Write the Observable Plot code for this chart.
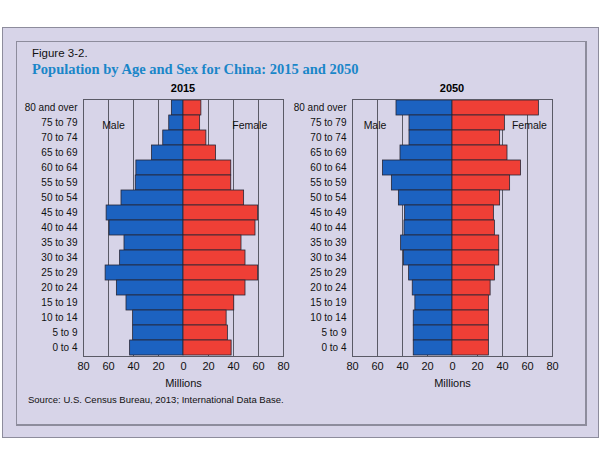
<!DOCTYPE html>
<html>
<head>
<meta charset="utf-8">
<script src="https://cdn.jsdelivr.net/npm/d3@7"></script>
<script src="https://cdn.jsdelivr.net/npm/@observablehq/plot@0.6"></script>
<style>
  html, body { margin: 0; padding: 0; background: #fff; width: 600px; height: 467px; overflow: hidden; }
  #outer { position: absolute; left: 2px; top: 27px; width: 595px; height: 409px; background: #d7d4e8; border: 1px solid #8d8c9c; }
  #inner { position: absolute; left: 16px; top: 41px; width: 568px; height: 382px; border: 1px solid #8d8c9c; border-right-width: 2px; border-bottom-width: 2px; }
  .txt { position: absolute; font-family: "Liberation Sans", Arial, sans-serif; color: #111; white-space: nowrap; }
  #fig { left: 32px; top: 47px; font-size: 11.5px; }
  #title { left: 32px; top: 61px; font-size: 14.5px; font-weight: bold; color: #1a86c8; font-family: "Liberation Serif", serif; }
  #source { left: 28px; top: 394px; font-size: 9.5px; }
  .year { position: absolute; font-family: "Liberation Sans", Arial, sans-serif; font-weight: bold; font-size: 11px; top: 82px; transform: translateX(-50%); }
  .panel { position: absolute; top: 80px; }
</style>
</head>
<body>
<div id="outer"></div>
<div id="inner"></div>
<div class="txt" id="fig">Figure 3-2.</div>
<div class="txt" id="title">Population by Age and Sex for China: 2015 and 2050</div>
<div class="year" style="left:183px">2015</div>
<div class="year" style="left:452px">2050</div>
<div class="panel" id="p1" style="left:0px"></div>
<div class="panel" id="p2" style="left:269px"></div>
<div class="txt" id="source">Source: U.S. Census Bureau, 2013; International Data Base.</div>
<script>
const ageGroups = ["80 and over","75 to 79","70 to 74","65 to 69","60 to 64","55 to 59","50 to 54","45 to 49","40 to 44","35 to 39","30 to 34","25 to 29","20 to 24","15 to 19","10 to 14","5 to 9","0 to 4"];
// Millions, in the same order as ageGroups
const male2015   = [9.3, 11.4, 16.2, 25.2, 37.7, 38.2, 49.6, 61.5, 59.2, 47.2, 50.7, 62.3, 53.3, 45.6, 40.3, 40.3, 42.7];
const female2015 = [14.3, 13.3, 18.3, 26.0, 38.2, 38.2, 48.5, 59.7, 57.6, 46.4, 49.6, 59.7, 49.6, 40.6, 34.5, 35.5, 38.5];
const male2050   = [44.8, 34.4, 34.4, 41.6, 55.6, 48.5, 42.9, 37.9, 38.4, 41.1, 38.9, 34.7, 31.8, 29.7, 31.0, 31.0, 31.0];
const female2050 = [69.1, 41.9, 38.1, 44.0, 54.8, 46.1, 38.1, 33.1, 33.9, 37.4, 37.4, 33.9, 30.5, 29.1, 29.1, 29.1, 29.1];
const xTicks = [-80,-60,-40,-20,0,20,40,60,80];
const gridLines = [-60,-40,-20,20,40,60];
const sexLabels = ["Male","Female"];

function pyramid(male, female, labelPos) {
  const rows = [];
  ageGroups.forEach((a, i) => {
    rows.push({age: a, sex: "Male", value: -male[i]});
    rows.push({age: a, sex: "Female", value: female[i]});
  });
  return Plot.plot({
    width: 290, height: 310,
    marginLeft: 83, marginRight: 7, marginTop: 19, marginBottom: 34,
    style: {background: "transparent", fontFamily: "Liberation Sans, Arial, sans-serif", fontSize: "10px", color: "#111"},
    x: {domain: [-80, 80], ticks: xTicks, tickFormat: d => Math.abs(d), tickSize: 0, tickPadding: 6, label: "Millions", labelAnchor: "center", labelArrow: "none", labelOffset: 30},
    y: {domain: ageGroups, padding: 0, tickSize: 0, tickPadding: 6, label: null},
    color: {domain: sexLabels, range: ["#1c62c0", "#ef3f36"]},
    marks: [
      Plot.ruleX(gridLines, {stroke: "#5a5a66", strokeWidth: 1}),
      Plot.barX(rows, {x: "value", y: "age", fill: "sex", inset: 0, stroke: "#262636", strokeWidth: 0.8}),
      Plot.text(sexLabels, {x: (d, i) => labelPos[i], y: () => "75 to 79", text: d => d, fontSize: 10.5, fill: "#111", dy: 3}),
      Plot.frame({stroke: "#5a5a66", strokeWidth: 1}),
      Plot.axisX({ticks: xTicks, tickFormat: d => Math.abs(d), tickSize: 0, tickPadding: 6, fontSize: 11, label: "Millions", labelAnchor: "center", labelArrow: "none", labelOffset: 30})
    ]
  });
}
document.getElementById("p1").appendChild(pyramid(male2015, female2015, [-56, 53]));
document.getElementById("p2").appendChild(pyramid(male2050, female2050, [-62, 61.5]));
</script>
</body>
</html>
